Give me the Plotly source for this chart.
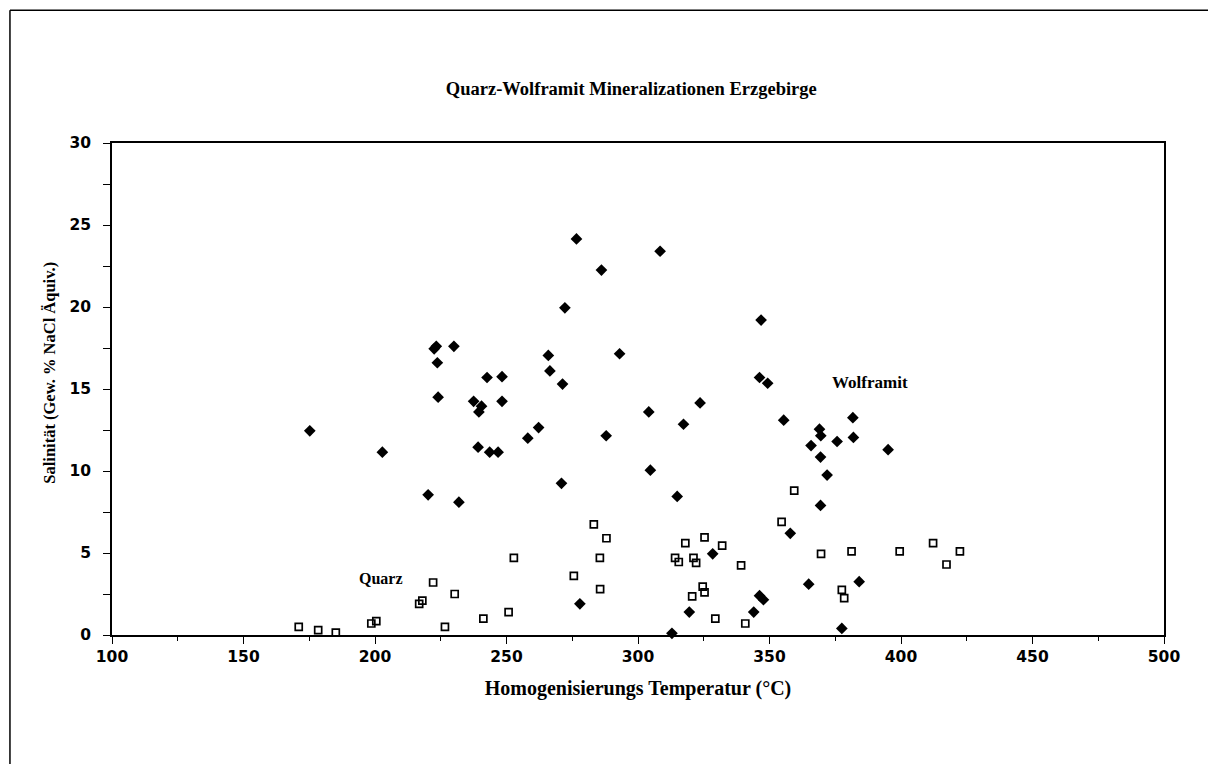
import plotly.graph_objects as go

# Wolframit (filled diamonds)
wolf_x = [175.2, 202.8, 220.2, 222.5, 223.3, 223.7, 224.0, 230.0, 231.9, 237.5, 239.5, 240.5,
          239.2, 242.6, 248.3, 248.3, 243.6, 246.8, 258.1, 262.2, 265.9, 266.5, 271.3, 272.2,
          270.9, 276.6, 277.9, 286.1, 287.9, 293.0, 304.1, 304.7, 308.4, 312.9, 314.9, 317.3,
          319.5, 323.6, 328.4, 344.0, 346.2, 347.7, 346.8, 346.2, 349.3, 355.4, 357.9, 364.9,
          365.8, 369.0, 369.5, 369.4, 369.4, 371.9, 375.7, 377.5, 381.7, 381.9, 384.1, 395.1]
wolf_y = [12.45, 11.15, 8.55, 17.45, 17.6, 16.6, 14.5, 17.6, 8.1, 14.25, 13.6, 13.95,
          11.45, 15.7, 15.75, 14.25, 11.15, 11.15, 12.0, 12.65, 17.05, 16.1, 15.3, 19.95,
          9.25, 24.15, 1.9, 22.25, 12.15, 17.15, 13.6, 10.05, 23.4, 0.1, 8.45, 12.85,
          1.4, 14.15, 4.95, 1.4, 2.4, 2.15, 19.2, 15.7, 15.35, 13.1, 6.2, 3.1,
          11.55, 12.55, 12.15, 10.85, 7.9, 9.75, 11.8, 0.4, 13.25, 12.05, 3.25, 11.3]

# Quarz (open squares)
quarz_x = [171.0, 178.4, 185.1, 198.6, 200.5, 216.8, 218.0, 222.1, 226.6, 230.3, 241.2, 250.8,
           252.8, 275.6, 283.2, 285.5, 285.6, 288.0, 314.1, 315.5, 318.0, 320.6, 321.1, 322.1,
           324.6, 325.3, 325.3, 329.4, 332.0, 339.2, 340.8, 354.6, 359.4, 369.6, 377.5, 378.4,
           381.2, 399.5, 412.2, 417.3, 422.4]
quarz_y = [0.5, 0.3, 0.15, 0.7, 0.85, 1.9, 2.1, 3.2, 0.5, 2.5, 1.0, 1.4,
           4.7, 3.6, 6.75, 4.7, 2.8, 5.9, 4.7, 4.45, 5.6, 2.35, 4.7, 4.4,
           2.95, 2.6, 5.95, 1.0, 5.45, 4.25, 0.7, 6.9, 8.8, 4.95, 2.75, 2.25,
           5.1, 5.1, 5.6, 4.3, 5.1]

x_ticks = [100, 150, 200, 250, 300, 350, 400, 450, 500]
y_ticks = [0, 5, 10, 15, 20, 25, 30]

title_text = "Quarz-Wolframit Mineralizationen Erzgebirge"
x_title = "Homogenisierungs Temperatur (°C)"
y_title = "Salinität (Gew. % NaCl Äquiv.)"

serif = "Liberation Serif, Times New Roman, serif"
sans = "DejaVu Sans, Liberation Sans, Arial, sans-serif"

fig = go.Figure()
fig.add_trace(go.Scatter(
    x=quarz_x, y=quarz_y, mode="markers", name="Quarz",
    marker=dict(symbol="square-open", size=7, color="black", line=dict(width=1.7, color="black")),
    showlegend=False, cliponaxis=False))
fig.add_trace(go.Scatter(
    x=wolf_x, y=wolf_y, mode="markers", name="Wolframit",
    marker=dict(symbol="diamond", size=9, color="black", line=dict(width=0)),
    showlegend=False, cliponaxis=False))

fig.add_annotation(x=388.2, y=15.37, text="<b>Wolframit</b>", showarrow=False,
                   font=dict(family=serif, size=17, color="black"))
fig.add_annotation(x=202.3, y=3.47, text="<b>Quarz</b>", showarrow=False,
                   font=dict(family=serif, size=16, color="black"))

# y-axis title as rotated annotation
fig.add_annotation(xref="paper", yref="paper", x=-0.059, y=0.533, text="<b>" + y_title + "</b>",
                   textangle=-90, showarrow=False, xanchor="center", yanchor="middle",
                   font=dict(family=serif, size=16.5, color="black"))

# outer frame (left and top edges)
fig.add_shape(type="line", xref="paper", yref="paper", x0=-0.097, x1=1.2, y0=1.270, y1=1.270,
              line=dict(color="black", width=1.5))
fig.add_shape(type="line", xref="paper", yref="paper", x0=-0.097, x1=-0.097, y0=1.270, y1=-0.3,
              line=dict(color="black", width=1.5))

fig.update_layout(
    width=1208, height=756,
    margin=dict(l=104, r=52, t=135, b=129),
    paper_bgcolor="white", plot_bgcolor="white",
    title=dict(text="<b>" + title_text + "</b>", x=0.516, xanchor="center", y=0.894, yanchor="middle",
               font=dict(family=serif, size=18.5, color="black")),
    xaxis=dict(range=[100, 500], tickvals=x_ticks, ticktext=[str(v) for v in x_ticks],
               showgrid=False, zeroline=False, showline=True, linecolor="black", linewidth=1.5,
               mirror=True, ticks="outside", ticklen=7, tickwidth=1, tickcolor="black",
               minor=dict(dtick=25, ticks="outside", ticklen=4, tickcolor="black", showgrid=False),
               tickfont=dict(family=sans, size=15.5, color="black", weight="bold"),
               title=dict(text="<b>" + x_title + "</b>", font=dict(family=serif, size=20, color="black"),
                          standoff=16)),
    yaxis=dict(range=[0, 30], tickvals=y_ticks, ticktext=[str(v) for v in y_ticks],
               showgrid=False, zeroline=False, showline=True, linecolor="black", linewidth=1.5,
               mirror=True, ticks="outside", ticklen=7, tickwidth=1, tickcolor="black",
               minor=dict(dtick=2.5, ticks="outside", ticklen=7, tickcolor="black", showgrid=False),
               tickfont=dict(family=sans, size=15.5, color="black", weight="bold"),
               ticklabelstandoff=9),
)

fig.write_html("out.html")
